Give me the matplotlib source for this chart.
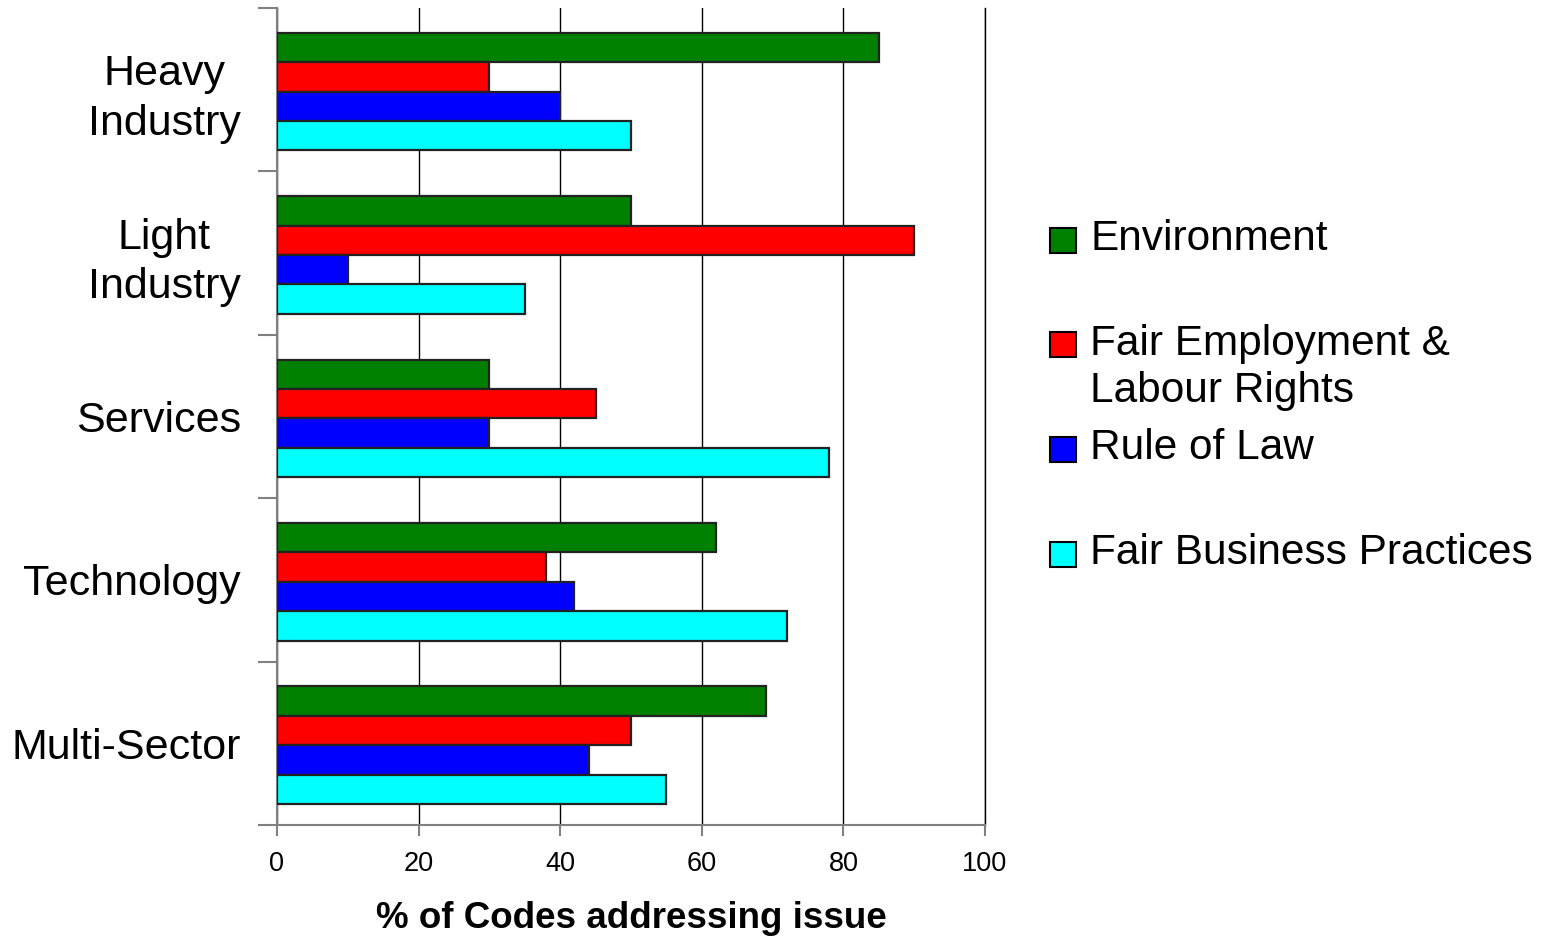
import matplotlib
matplotlib.use("Agg")
import matplotlib.pyplot as plt
from matplotlib.patches import Rectangle
import numpy as np

plt.rcParams['font.family'] = ['Liberation Sans', 'DejaVu Sans']

categories = ["Heavy\nIndustry", "Light\nIndustry", "Services", "Technology", "Multi-Sector"]
series_names = ["Environment", "Fair Employment &\nLabour Rights", "Rule of Law", "Fair Business Practices"]
environment = [85, 50, 30, 62, 69]
fair_employment = [30, 90, 45, 38, 50]
rule_of_law = [40, 10, 30, 42, 44]
fair_business = [50, 35, 78, 72, 55]
colors = ["#008000", "#FF0000", "#0000FF", "#00FFFF"]
xticks = [0, 20, 40, 60, 80, 100]

series = [environment, fair_employment, rule_of_law, fair_business]

fig = plt.figure(figsize=(15.52, 9.38), dpi=100)
ax = fig.add_axes([277/1552, 1-825/938, (985-277)/1552, (825-8)/938])

y = np.arange(len(categories))
h = 0.18
for i, (vals, c) in enumerate(zip(series, colors)):
    ax.barh(y + (i - 1.5) * h + 0.012, vals, height=h, color=c, edgecolor="#222222", linewidth=1.6, zorder=3)

ax.set_xlim(0, 100)
ax.set_ylim(len(categories) - 0.5, -0.5)
ax.set_xticks(xticks)
ax.set_xticklabels([str(v) for v in xticks], fontsize=19.5)
ax.xaxis.grid(True, color="black", linewidth=1.0, zorder=0)
ax.axvline(100, color="black", linewidth=1.0, zorder=0, clip_on=False)
ax.set_axisbelow(True)

ax.set_yticks(np.arange(-0.5, len(categories), 1.0))
ax.set_yticklabels([])
ax.set_yticks(y, minor=True)
ax.set_yticklabels(categories, minor=True, fontsize=31, multialignment="center", linespacing=1.3)
ax.tick_params(axis="y", which="major", length=14, width=1.5, color="#808080", direction="out")
ax.tick_params(axis="y", which="minor", length=0, pad=26)
ax.tick_params(axis="x", which="major", length=8, width=1.5, color="#808080", direction="out", pad=11)

for s in ["top", "right"]:
    ax.spines[s].set_visible(False)
for s in ["left", "bottom"]:
    ax.spines[s].set_color("#808080")
    ax.spines[s].set_linewidth(1.5)

ax.set_xlabel("% of Codes addressing issue", fontsize=26.5, fontweight="bold", labelpad=17)

# legend
x_box = 1050 / 1552
box_w = 26 / 1552
box_h = 25 / 938
x_text = 1090 / 1552
y0 = 240
step = 104.7
for i, (name, c) in enumerate(zip(series_names, colors)):
    yc = 1 - (y0 + i * step) / 938
    fig.add_artist(Rectangle((x_box, yc - box_h / 2), box_w, box_h, transform=fig.transFigure,
                             facecolor=c, edgecolor="black", linewidth=1.5))
    fig.text(x_text, yc + 21 / 938, name, fontsize=30.5, va="top", ha="left", linespacing=1.25)

fig.savefig("out.png", dpi=100)
